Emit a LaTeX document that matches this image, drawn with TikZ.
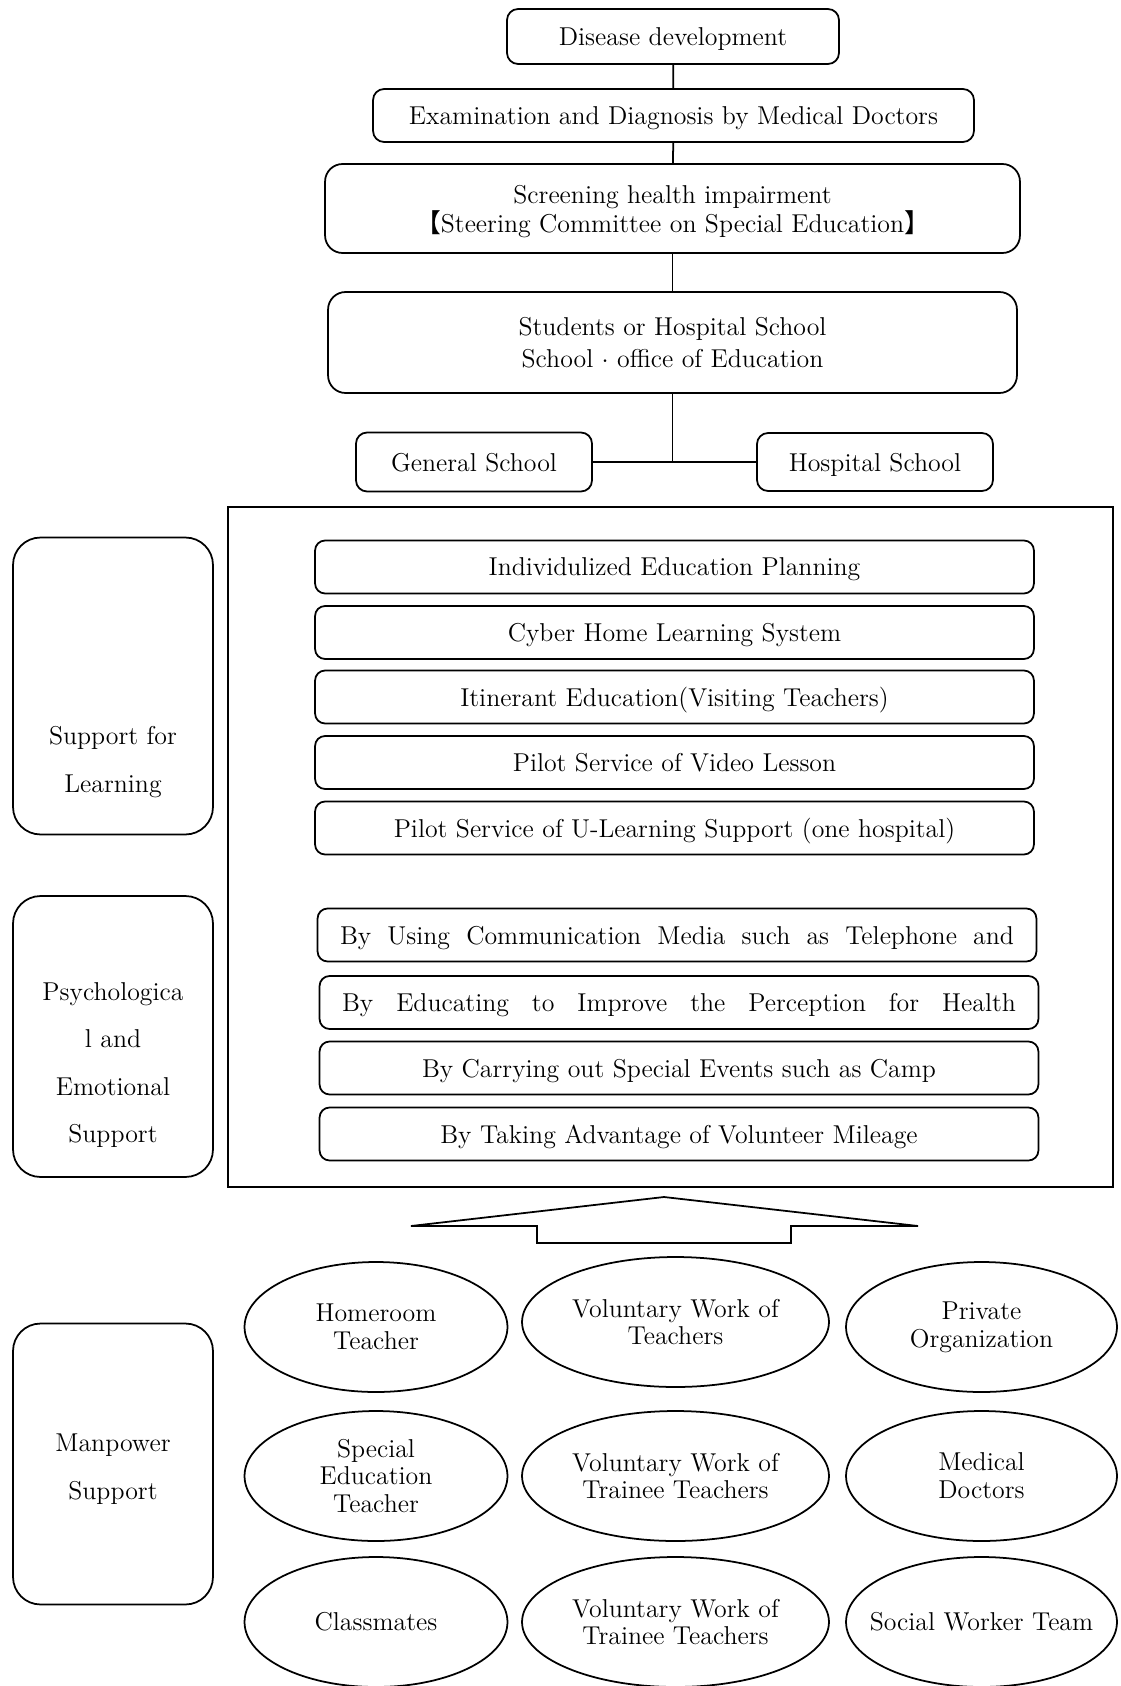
\documentclass[tikz,border=0pt]{standalone}
\usepackage{fontspec}
\newfontfamily\cjk{Noto Sans CJK JP}
\usetikzlibrary{shapes.geometric}
\tikzset{
    flowbox/.style={draw, line width=1pt, rounded corners=2.2mm, align=center, inner sep=0pt, text depth=0pt},
    itembox/.style={draw, line width=1pt, rounded corners=2mm, minimum width=14.38cm, minimum height=1.06cm, inner sep=0pt, text depth=0pt},
    sidebox/.style={draw, line width=1pt, rounded corners=5.5mm, minimum width=4cm, minimum height=5.62cm, inner sep=0pt},
    sidetext/.style={align=center, font=\fontsize{14.7}{27}\selectfont},
    helper/.style={draw, line width=1pt, ellipse, inner sep=0pt, minimum height=2.6cm, align=center, font=\fontsize{14.7}{15.8}\selectfont}
}

\begin{document}
\begin{tikzpicture}[x=0.02cm, y=-0.02cm, font=\fontsize{14.7}{17}\selectfont]
    \useasboundingbox (0,0) rectangle (1121,1686);
    \node[flowbox, minimum width=6.64cm, minimum height=1.1cm] (disease) at (673,36.5) {Disease development};
    \node[flowbox, minimum width=12.02cm, minimum height=1.06cm] (exam) at (673.5,115.5) {Examination and Diagnosis by Medical Doctors};
    \node[flowbox, rounded corners=3.5mm, minimum width=13.9cm, minimum height=1.78cm, font=\fontsize{14.7}{16.5}\selectfont] (screen) at (672.5,208.5) {Screening health impairment\\{\cjk 【}Steering Committee on Special Education{\cjk 】}};
    \node[flowbox, rounded corners=3.5mm, minimum width=13.78cm, minimum height=2.02cm, font=\fontsize{14.7}{18.2}\selectfont] (students) at (672.5,342.5) {Students or Hospital School\\School $\cdot$ office of Education};
    \node[flowbox, minimum width=4.72cm, minimum height=1.18cm] (general) at (474,462) {General School};
    \node[flowbox, minimum width=4.72cm, minimum height=1.16cm] (hospital) at (875,462) {Hospital School};
    \coordinate (fork) at (students.south |- general.east);
    \draw[line width=1pt] (disease) -- (exam);
    \draw[line width=1pt] (exam) -- (screen);
    \draw[line width=1pt] (screen) -- (students);
    \draw[line width=1pt] (students) -- (fork);
    \draw[line width=1pt] (general) -- (hospital);

    \draw[line width=1pt] (228,507) rectangle (1113,1187);
    \foreach \i/\y/\t in {1/567/Individulized Education Planning, 2/632.5/Cyber Home Learning System, 3/697/{Itinerant Education(Visiting Teachers)}, 4/762.5/Pilot Service of Video Lesson, 5/828/{Pilot Service of U-Learning Support (one hospital)}} {
        \node[itembox] (learn\i) at (674.5,\y) {\t};
    }
    \node[itembox] (psych1) at (677,935) {\makebox[13.48cm][s]{By Using Communication Media such as Telephone and}};
    \node[itembox] (psych2) at (679,1002.5) {\makebox[13.48cm][s]{By Educating to Improve the Perception for Health}};
    \node[itembox] (psych3) at (679,1068) {By Carrying out Special Events such as Camp};
    \node[itembox] (psych4) at (679,1134) {By Taking Advantage of Volunteer Mileage};

    \node[sidebox, minimum height=5.94cm] (learnside) at (113,686) {};
    \node[sidetext] (learnlabel) at (113,762) {Support for\\Learning};
    \node[sidebox] (psychside) at (113,1036.5) {};
    \node[sidetext] (psychlabel) at (113,1065) {Psychologica\\l and\\Emotional\\Support};
    \node[sidebox] (manside) at (113,1464) {};
    \node[sidetext] (manlabel) at (113,1469) {Manpower\\Support};

    \draw[line width=1pt] (664,1197) -- (918,1226) -- (791,1226) -- (791,1243) -- (537,1243) -- (537,1226) -- (411,1226) -- cycle;

    \foreach \n/\x/\y/\w/\t in {home/376/1327/5.26/{Homeroom\\Teacher}, volteach/675.5/1322/6.14/{Voluntary Work of\\Teachers}, private/981.5/1327/5.42/{Private\\Organization}, special/376/1476/5.26/{Special\\Education\\Teacher}, voltrainA/675.5/1476/6.14/{Voluntary Work of\\Trainee Teachers}, medical/981.5/1476/5.42/{Medical\\Doctors}, classmates/376/1622/5.26/Classmates, voltrainB/675.5/1622/6.14/{Voluntary Work of\\Trainee Teachers}, social/981.5/1622/5.42/{\makebox[3cm]{Social Worker Team}}} {
        \node[helper, minimum width=\w cm] (\n) at (\x,\y) {\t};
    }
\end{tikzpicture}
\end{document}
